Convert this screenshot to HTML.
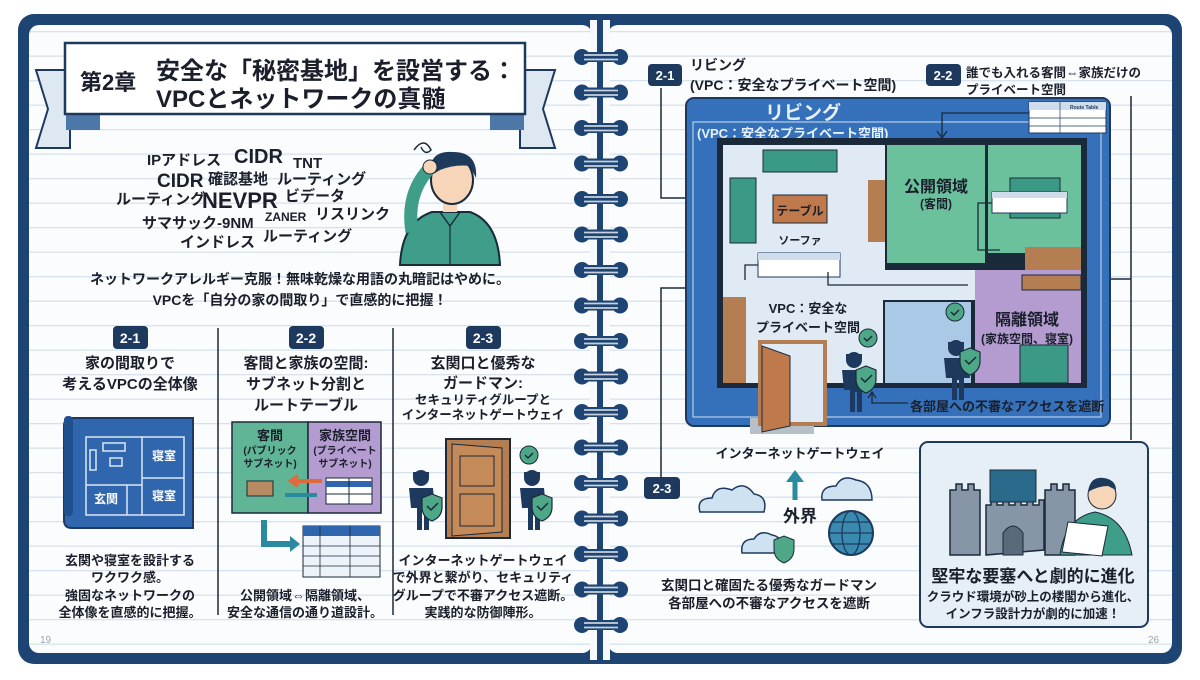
<!DOCTYPE html>
<html><head><meta charset="utf-8"><style>
body{margin:0;width:1200px;height:675px;overflow:hidden;background:#fff}
svg text{font-family:"Liberation Sans","Noto Sans CJK JP",sans-serif;font-weight:bold;fill:#1a1f2b}
</style></head><body>
<svg width="1200" height="675" viewBox="0 0 1200 675" xmlns="http://www.w3.org/2000/svg">
<defs>
<pattern id="lines" x="0" y="8" width="10" height="24.5" patternUnits="userSpaceOnUse"><rect width="10" height="24.5" fill="#fbfcfd"/><rect y="23" width="10" height="1.3" fill="#d7e2ec"/></pattern>
<g id="ring"><circle cx="582" cy="0" r="8" fill="#1d4472"/><circle cx="620" cy="0" r="8" fill="#1d4472"/><rect x="582" y="-5" width="38" height="10" fill="#1d4472"/><line x1="584" y1="-2" x2="618" y2="-2" stroke="#c9d2dc" stroke-width="1.8"/><line x1="584" y1="2.5" x2="618" y2="2.5" stroke="#c9d2dc" stroke-width="1.8"/></g>
<g id="guard"><circle cx="0" cy="-30" r="8" fill="#1d3a5e"/><rect x="-8" y="-36" width="16" height="5" fill="#1d3a5e"/><path d="M-12 -20 h24 l2 20 h-6 v22 h-5 v-20 h-2 v20 h-5 v-22 h-6z" fill="#1d3a5e"/></g>
<g id="shield"><path d="M0 0 l10 -4 l10 4 v9 q0 10 -10 14 q-10 -4 -10 -14z" fill="#4ea888" stroke="#1a2a3a" stroke-width="1.2"/><path d="M5 8 l4 4 l7 -7" fill="none" stroke="#1a2a3a" stroke-width="1.5"/></g>
<g id="check"><circle r="9" fill="#4ea888" stroke="#1a2a3a"/><path d="M-4 0 l3 3 l5 -5" fill="none" stroke="#1a2a3a" stroke-width="1.5"/></g>
</defs>
<rect x="18" y="14" width="1164" height="650" rx="16" fill="#1d4472"/>
<rect x="29" y="25" width="563" height="628" rx="10" fill="url(#lines)"/>
<rect x="608" y="25" width="564" height="628" rx="10" fill="url(#lines)"/>
<rect x="590" y="20" width="20" height="640" fill="#f7f9fb"/>
<rect x="597" y="20" width="6" height="640" fill="#1d4472"/>
<use href="#ring" y="57"/><use href="#ring" y="92.5"/><use href="#ring" y="128"/><use href="#ring" y="163.5"/><use href="#ring" y="199"/><use href="#ring" y="234.5"/><use href="#ring" y="270"/><use href="#ring" y="305.5"/><use href="#ring" y="341"/><use href="#ring" y="376.5"/><use href="#ring" y="412"/><use href="#ring" y="447.5"/><use href="#ring" y="483"/><use href="#ring" y="518.5"/><use href="#ring" y="554"/><use href="#ring" y="589.5"/><use href="#ring" y="625"/>
<!-- title banner -->
<polygon points="36,70 70,70 70,148 36,148 48,109" fill="#dde8f2" stroke="#1d3a5e" stroke-width="2"/>
<polygon points="555,70 520,70 520,148 555,148 543,109" fill="#dde8f2" stroke="#1d3a5e" stroke-width="2"/>
<polygon points="66,113 100,113 100,130 66,130" fill="#4d77a6"/>
<polygon points="524,113 490,113 490,130 524,130" fill="#4d77a6"/>
<rect x="65" y="43" width="460" height="71" fill="#fff" stroke="#1d3a5e" stroke-width="2.5"/>
<text x="80" y="90" font-size="22">第2章</text>
<text x="156" y="79" font-size="24">安全な「秘密基地」を設営する：</text>
<text x="156" y="107" font-size="24">VPCとネットワークの真髄</text>
<!-- word cloud -->
<g font-size="15">
<text x="147" y="165">IPアドレス</text><text x="234" y="163" font-size="20">CIDR</text><text x="293" y="168">TNT</text>
<text x="157" y="187" font-size="19">CIDR</text><text x="208" y="184">確認基地</text><text x="277" y="184">ルーティング</text>
<text x="116" y="204">ルーティング</text><text x="202" y="208" font-size="22">NEVPR</text><text x="285" y="201">ビデータ</text>
<text x="142" y="228">サマサック-9NM</text><text x="265" y="221" font-size="12">ZANER</text><text x="315" y="219">リスリンク</text>
<text x="180" y="247">インドレス</text><text x="263" y="241">ルーティング</text>
</g>
<!-- confused man -->
<path d="M400 265 Q402 222 432 212 L470 212 Q498 222 500 265 Z" fill="#3f9e8a" stroke="#1a2a3a" stroke-width="2"/>
<path d="M440 212 l10 14 l10 -14" fill="none" stroke="#1a2a3a" stroke-width="1.5"/>
<line x1="450" y1="226" x2="450" y2="265" stroke="#1a2a3a" stroke-width="1.2"/>
<rect x="443" y="198" width="14" height="14" fill="#f7d5b8"/>
<ellipse cx="452" cy="180" rx="21" ry="24" fill="#f7d5b8" stroke="#1a2a3a" stroke-width="2"/>
<path d="M430 176 Q428 150 453 152 Q478 152 476 178 L470 166 Q455 164 440 170 Z" fill="#1d3a5a"/>
<path d="M412 232 Q406 195 428 170" stroke="#3f9e8a" stroke-width="13" fill="none"/>
<circle cx="430" cy="167" r="7" fill="#f7d5b8" stroke="#1a2a3a"/>
<path d="M414 150 q10 -14 17 0 q-6 6 -10 -3" fill="none" stroke="#1a2a3a" stroke-width="1.5"/>
<text x="300" y="284" font-size="14" text-anchor="middle">ネットワークアレルギー克服！無味乾燥な用語の丸暗記はやめに。</text>
<text x="300" y="305" font-size="14" text-anchor="middle">VPCを「自分の家の間取り」で直感的に把握！</text>
<!-- columns -->
<line x1="218" y1="328" x2="218" y2="615" stroke="#1a2a3a" stroke-width="1.5"/>
<line x1="393" y1="328" x2="393" y2="615" stroke="#1a2a3a" stroke-width="1.5"/>
<rect x="113" y="326" width="35" height="23" rx="4" fill="#1d3a5e"/><text x="130" y="343" font-size="14" text-anchor="middle" style="fill:#fff">2-1</text>
<rect x="289" y="326" width="35" height="23" rx="4" fill="#1d3a5e"/><text x="306" y="343" font-size="14" text-anchor="middle" style="fill:#fff">2-2</text>
<rect x="466" y="326" width="35" height="23" rx="4" fill="#1d3a5e"/><text x="483" y="343" font-size="14" text-anchor="middle" style="fill:#fff">2-3</text>
<g font-size="15" text-anchor="middle">
<text x="130" y="368">家の間取りで</text><text x="130" y="389">考えるVPCの全体像</text>
<text x="306" y="368">客間と家族の空間:</text><text x="306" y="389">サブネット分割と</text><text x="306" y="410">ルートテーブル</text>
<text x="483" y="368">玄関口と優秀な</text><text x="483" y="388">ガードマン:</text>
<text x="483" y="404" font-size="12.5">セキュリティグループと</text><text x="483" y="419" font-size="12.5">インターネットゲートウェイ</text>
</g>
<!-- blueprint small -->
<path d="M72 418 h121 v110 h-121 q-8 0 -8 -8 v-94 q0 -8 8 -8" fill="#2f66ad" stroke="#1d3a5e" stroke-width="2"/>
<rect x="64" y="416" width="9" height="100" rx="4" fill="#1f4f8c"/>
<g stroke="#dbe7f3" stroke-width="1.5" fill="none">
<rect x="86" y="437" width="98" height="78"/><line x1="142" y1="437" x2="142" y2="515"/><line x1="142" y1="478" x2="184" y2="478"/><line x1="86" y1="485" x2="142" y2="485"/><line x1="127" y1="485" x2="127" y2="515"/>
<rect x="103" y="443" width="22" height="8"/><rect x="110" y="458" width="12" height="8"/><rect x="90" y="450" width="6" height="20"/>
</g>
<g font-size="12"><text x="152" y="460" style="fill:#fff">寝室</text><text x="152" y="500" style="fill:#fff">寝室</text><text x="94" y="503" style="fill:#fff">玄関</text></g>
<!-- subnet -->
<rect x="232" y="422" width="76" height="91" fill="#5fb595" stroke="#1a2a3a" stroke-width="1.5"/>
<rect x="308" y="422" width="73" height="91" fill="#b49cd1" stroke="#1a2a3a" stroke-width="1.5"/>
<text x="270" y="440" font-size="13" text-anchor="middle">客間</text>
<text x="270" y="454" font-size="10" text-anchor="middle">(パブリック</text><text x="270" y="467" font-size="10" text-anchor="middle">サブネット)</text>
<text x="345" y="440" font-size="13" text-anchor="middle">家族空間</text>
<text x="345" y="454" font-size="10" text-anchor="middle">(プライベート</text><text x="345" y="467" font-size="10" text-anchor="middle">サブネット)</text>
<rect x="247" y="481" width="26" height="15" fill="#b88a62" stroke="#1a2a3a"/>
<path d="M322 481 h-30 m6 -5 l-7 5 l7 5" stroke="#e06a3c" stroke-width="4" fill="none"/>
<path d="M285 495 h32" stroke="#2a8aa0" stroke-width="4"/>
<rect x="326" y="478" width="46" height="26" fill="#fff" stroke="#1a2a3a"/><line x1="326" y1="484" x2="372" y2="484" stroke="#2f66ad" stroke-width="6"/><line x1="349" y1="478" x2="349" y2="504" stroke="#1a2a3a"/><line x1="326" y1="494" x2="372" y2="494" stroke="#1a2a3a"/>
<path d="M264 520 v24 h28" stroke="#2a8aa0" stroke-width="6" fill="none"/><path d="M290 536 l10 8 l-10 8z" fill="#2a8aa0"/>
<rect x="303" y="526" width="77" height="51" fill="#eef3fa" stroke="#1a2a3a"/><rect x="303" y="526" width="77" height="10" fill="#2f66ad"/>
<g stroke="#1a2a3a" stroke-width="0.8"><line x1="303" y1="546" x2="380" y2="546"/><line x1="303" y1="556" x2="380" y2="556"/><line x1="303" y1="566" x2="380" y2="566"/><line x1="320" y1="526" x2="320" y2="577"/><line x1="350" y1="526" x2="350" y2="577"/></g>
<!-- door & guards -->
<rect x="446" y="439" width="64" height="99" fill="#b47d52" stroke="#1a2a3a" stroke-width="2"/>
<path d="M452 444 l50 4 v84 l-50 4z" fill="#c48a5a" stroke="#1a2a3a"/>
<rect x="460" y="456" width="34" height="30" fill="none" stroke="#1a2a3a"/><rect x="460" y="494" width="34" height="32" fill="none" stroke="#1a2a3a"/>
<use href="#guard" x="421" y="508"/><use href="#shield" x="422" y="498"/>
<use href="#guard" x="532" y="508"/><use href="#shield" x="532" y="498"/>
<use href="#check" x="529" y="455"/>
<g font-size="13" text-anchor="middle">
<text x="130" y="565">玄関や寝室を設計する</text><text x="130" y="582">ワクワク感。</text><text x="130" y="600">強固なネットワークの</text><text x="130" y="617">全体像を直感的に把握。</text>
<text x="305" y="600">公開領域⇔隔離領域、</text><text x="305" y="617">安全な通信の通り道設計。</text>
<text x="483" y="565">インターネットゲートウェイ</text><text x="483" y="582">で外界と繋がり、セキュリティ</text><text x="483" y="600">グループで不審アクセス遮断。</text><text x="483" y="617">実践的な防御陣形。</text>
</g>
<text x="40" y="643" font-size="10" style="fill:#9aa5b0;font-weight:normal">19</text>
<text x="1148" y="643" font-size="10" style="fill:#9aa5b0;font-weight:normal">26</text>
<!-- right page labels -->
<rect x="648" y="64" width="34" height="22" rx="4" fill="#1d3a5e"/><text x="665" y="80" font-size="13" text-anchor="middle" style="fill:#fff">2-1</text>
<text x="690" y="70" font-size="14">リビング</text><text x="690" y="90" font-size="14">(VPC：安全なプライベート空間)</text>
<rect x="926" y="64" width="35" height="22" rx="4" fill="#1d3a5e"/><text x="943" y="80" font-size="13" text-anchor="middle" style="fill:#fff">2-2</text>
<text x="966" y="77" font-size="12.5">誰でも入れる客間⇔家族だけの</text><text x="966" y="94" font-size="12.5">プライベート空間</text>
<g fill="none" stroke="#1a2a3a" stroke-width="1.5">
<path d="M661 88 V198 H712"/><path d="M706 193 l8 5 l-8 5" />
<path d="M661 480 V288 H770 V277"/>
<path d="M1131 96 V440"/><path d="M1131 279 H1072"/><path d="M1078 274 l-7 5 l7 5"/>
</g>
<!-- blueprint -->
<rect x="686" y="98" width="424" height="328" rx="8" fill="#3571ba" stroke="#1d3a5e" stroke-width="2"/>
<rect x="693" y="122" width="408" height="295" fill="none" stroke="#cfe0f2" stroke-width="1"/>
<text x="765" y="119" font-size="19" style="fill:#e8f0fa">リビング</text>
<text x="697" y="138" font-size="13" style="fill:#e8f0fa">(VPC：安全なプライベート空間)</text>
<rect x="1029" y="102" width="77" height="31" fill="#fff" stroke="#1d3a5e"/><rect x="1029" y="102" width="77" height="8" fill="#cfdcec"/><line x1="1029" y1="118" x2="1106" y2="118" stroke="#1d3a5e" stroke-width="0.7"/><line x1="1029" y1="126" x2="1106" y2="126" stroke="#1d3a5e" stroke-width="0.7"/><line x1="1060" y1="102" x2="1060" y2="133" stroke="#1d3a5e" stroke-width="0.7"/>
<text x="1070" y="109" font-size="5" style="fill:#1d3a5e">Route Table</text>
<path d="M1029 113 H942 V136" fill="none" stroke="#1a2a3a" stroke-width="1.3"/><path d="M937 131 l5 7 l5 -7" fill="none" stroke="#1a2a3a" stroke-width="1.3"/>
<rect x="717" y="138" width="370" height="250" fill="#1a2a3a"/>
<rect x="723" y="145" width="162" height="148" fill="#dfeaf4"/>
<rect x="723" y="270" width="252" height="30" fill="#dfeaf4"/>
<rect x="746" y="297" width="137" height="86" fill="#dfeaf4"/>
<rect x="723" y="297" width="23" height="86" fill="#b47d52"/>
<rect x="887" y="145" width="98" height="118" fill="#6cc19d"/>
<rect x="988" y="145" width="93" height="108" fill="#6cc19d"/>
<rect x="1025" y="247" width="56" height="40" fill="#b47d52"/>
<rect x="975" y="270" width="106" height="113" fill="#b49cd1"/>
<rect x="1022" y="275" width="59" height="15" fill="#b47d52" stroke="#1a2a3a"/>
<rect x="885" y="302" width="86" height="81" fill="#a9c9e6"/>
<rect x="1020" y="345" width="48" height="38" fill="#3a9a86" stroke="#1a2a3a"/>
<rect x="1010" y="178" width="50" height="40" fill="#3a9a86" stroke="#1a2a3a"/>
<rect x="763" y="150" width="74" height="22" fill="#3a9a86" stroke="#1a2a3a"/>
<rect x="730" y="178" width="26" height="65" fill="#3a9a86" stroke="#1a2a3a"/>
<rect x="773" y="195" width="54" height="28" fill="#c0794a" stroke="#1a2a3a"/>
<text x="800" y="215" font-size="12" text-anchor="middle">テーブル</text>
<text x="800" y="244" font-size="11" text-anchor="middle">ソーファ</text>
<rect x="868" y="180" width="17" height="62" fill="#b47d52"/>
<text x="936" y="192" font-size="16" text-anchor="middle">公開領域</text><text x="936" y="208" font-size="12" text-anchor="middle">(客間)</text>
<rect x="992" y="192" width="75" height="21" fill="#fff" stroke="#1d3a5e"/><rect x="992" y="192" width="75" height="6" fill="#cfdcec"/>
<path d="M992 203 H978 V250 H1000" fill="none" stroke="#1a2a3a" stroke-width="1.3"/>
<rect x="758" y="253" width="82" height="24" fill="#fff" stroke="#1d3a5e"/><rect x="758" y="253" width="82" height="7" fill="#cfdcec"/>
<path d="M758 265 H745 V280" fill="none" stroke="#1a2a3a" stroke-width="1.3"/>
<path d="M828 272 V285 H968" fill="none" stroke="#1a2a3a" stroke-width="1.3"/>
<text x="808" y="313" font-size="13" text-anchor="middle">VPC：安全な</text><text x="808" y="332" font-size="13" text-anchor="middle">プライベート空間</text>
<text x="1027" y="325" font-size="16" text-anchor="middle">隔離領域</text><text x="1027" y="343" font-size="12" text-anchor="middle">(家族空間、寝室)</text>
<rect x="750" y="418" width="64" height="16" fill="#b7bfc8"/>
<rect x="760" y="342" width="65" height="82" fill="#dfeaf4" stroke="#b47d52" stroke-width="4"/>
<path d="M762 346 l28 10 v70 l-28 6z" fill="#c0794a" stroke="#1a2a3a"/>
<use href="#guard" x="854" y="390"/><use href="#shield" x="856" y="370"/><use href="#check" x="868" y="338"/>
<use href="#guard" x="956" y="378"/><use href="#shield" x="960" y="352"/><use href="#check" x="955" y="312"/>
<path d="M872 393 v10 h36" fill="none" stroke="#1a2a3a" stroke-width="1.3"/><path d="M868 398 l4 -6 l4 6" fill="none" stroke="#1a2a3a" stroke-width="1.3"/>
<text x="910" y="411" font-size="13">各部屋への不審なアクセスを遮断</text>
<!-- bottom right -->
<text x="800" y="458" font-size="13" text-anchor="middle">インターネットゲートウェイ</text>
<rect x="644" y="477" width="36" height="22" rx="4" fill="#1d3a5e"/><text x="662" y="493" font-size="13" text-anchor="middle" style="fill:#fff">2-3</text>
<path d="M795 500 V480" stroke="#2a8aa0" stroke-width="5"/><path d="M786 482 l9 -12 l9 12z" fill="#2a8aa0"/>
<g fill="#cfe2f1" stroke="#1d3a5e" stroke-width="1.5">
<path d="M700 512 q-4 -14 12 -14 q4 -14 20 -8 q12 -10 22 4 q14 2 10 18z"/>
<path d="M822 500 q-2 -14 14 -14 q6 -12 20 -6 q16 2 16 20z"/>
<path d="M742 553 q-2 -14 12 -14 q6 -10 18 -4 q12 2 10 18z"/>
</g>
<text x="800" y="522" font-size="17" text-anchor="middle">外界</text>
<circle cx="851" cy="533" r="22" fill="#3a8ab0" stroke="#1d3a5e" stroke-width="2"/>
<g fill="none" stroke="#1d3a5e" stroke-width="1.3"><ellipse cx="851" cy="533" rx="9" ry="22"/><line x1="829" y1="533" x2="873" y2="533"/><line x1="833" y1="522" x2="869" y2="522"/><line x1="833" y1="544" x2="869" y2="544"/></g>
<path d="M774 540 l10 -4 l10 4 v9 q0 10 -10 14 q-10 -4 -10 -14z" fill="#4ea888" stroke="#1a2a3a"/>
<text x="769" y="590" font-size="13.5" text-anchor="middle">玄関口と確固たる優秀なガードマン</text>
<text x="769" y="608" font-size="13.5" text-anchor="middle">各部屋への不審なアクセスを遮断</text>
<rect x="920" y="442" width="228" height="185" rx="8" fill="#e6eef6" stroke="#1d3a5e" stroke-width="2"/>
<g fill="#8796a6" stroke="#1a2a3a" stroke-width="1.5">
<path d="M950 555 V490 h6 v-6 h6 v6 h6 v-6 h6 v6 h6 v65z"/>
<path d="M1045 555 V490 h6 v-6 h6 v6 h6 v-6 h6 v6 h6 v65z"/>
<path d="M986 555 V505 h5 v-5 h6 v5 h6 v-5 h6 v5 h6 v-5 h6 v5 h6 v-5 h6 v5 h6 v-5 h5 v50z"/>
</g>
<rect x="990" y="470" width="46" height="32" fill="#2a6a8a" stroke="#1a2a3a"/>
<path d="M1003 555 v-22 q10 -14 20 0 v22z" fill="#5a6a7a" stroke="#1a2a3a"/>
<path d="M1060 555 Q1065 518 1095 512 Q1125 518 1132 555z" fill="#3f9e8a" stroke="#1a2a3a"/>
<circle cx="1102" cy="495" r="14" fill="#f7d5b8" stroke="#1a2a3a"/>
<path d="M1088 492 q2 -16 16 -14 q12 2 12 12 l-8 -4 q-10 0 -20 6z" fill="#1d3a5a"/>
<path d="M1068 522 l40 4 l-6 30 l-40 -4z" fill="#fff" stroke="#1a2a3a"/>
<text x="1033" y="582" font-size="17" text-anchor="middle">堅牢な要塞へと劇的に進化</text>
<text x="1033" y="601" font-size="12.5" text-anchor="middle">クラウド環境が砂上の楼閣から進化、</text>
<text x="1033" y="618" font-size="12.5" text-anchor="middle">インフラ設計力が劇的に加速！</text>
</svg>
</body></html>
